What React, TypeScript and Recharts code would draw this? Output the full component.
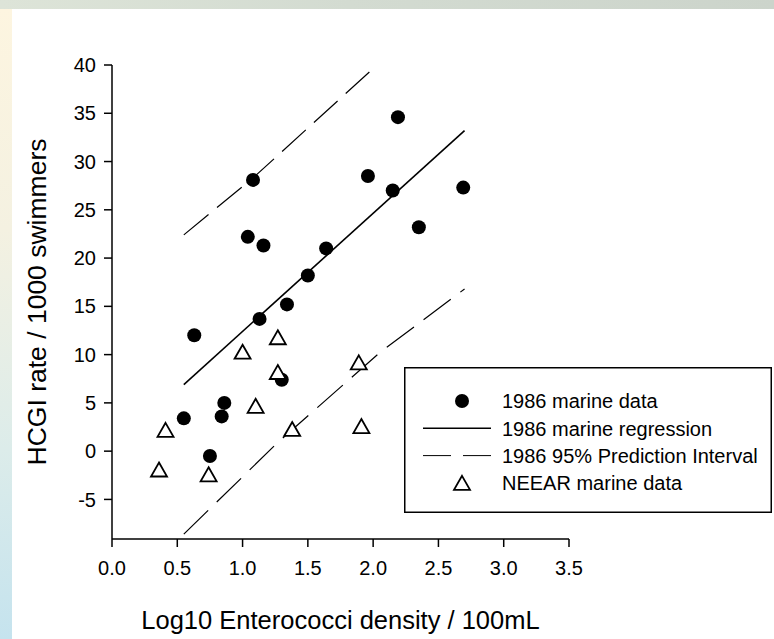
import { ScatterChart, Scatter, XAxis, YAxis, Legend } from 'recharts'

// 1986 marine data (filled circles)
const marineX = [0.55, 0.63, 0.75, 0.84, 0.86, 1.04, 1.08, 1.13, 1.16, 1.3, 1.34, 1.5, 1.64, 1.96, 2.15, 2.19, 2.35, 2.69]
const marineY = [3.4, 12.0, -0.5, 3.6, 5.0, 22.2, 28.1, 13.7, 21.3, 7.4, 15.2, 18.2, 21.0, 28.5, 27.0, 34.6, 23.2, 27.3]

// NEEAR marine data (open triangles)
const neearX = [0.36, 0.41, 0.74, 1.0, 1.1, 1.27, 1.27, 1.38, 1.89, 1.91]
const neearY = [-1.9, 2.2, -2.4, 10.3, 4.7, 8.2, 11.8, 2.3, 9.2, 2.6]

// regression + 95% prediction interval
const regressionX = [0.55, 2.7]
const regressionY = [6.9, 33.2]
const upperPiX = [0.55, 1.08, 2.03]
const upperPiY = [22.4, 28.3, 40.0]
const lowerPiX = [0.55, 1.27, 2.05, 2.7]
const lowerPiY = [-8.6, 0.9, 10.2, 16.8]

const xTicks = [0, 0.5, 1, 1.5, 2, 2.5, 3, 3.5]
const yTicks = [-5, 0, 5, 10, 15, 20, 25, 30, 35, 40]
const legendLabels = ['1986 marine data', '1986 marine regression', '1986 95% Prediction Interval', 'NEEAR marine data']

const zip = (xs: number[], ys: number[]) => xs.map((x, i) => ({ x, y: ys[i] }))

const FONT = '"Liberation Sans", Arial, sans-serif'

const Dot = (p: any) => <circle cx={p.cx} cy={p.cy} r={7} fill="#000" />
const Tri = (p: any) => (
  <path
    d={`M${p.cx},${p.cy - 7} L${p.cx + 8},${p.cy + 7} L${p.cx - 8},${p.cy + 7} Z`}
    fill="#fff"
    stroke="#000"
    strokeWidth={1.8}
  />
)
const NoShape = () => <g />

function LegendBox() {
  const rowY = (i: number) => 34 + i * 27.3
  return (
    <svg width={368} height={146} style={{ display: 'block', fontFamily: FONT }}>
      <rect x={0.75} y={0.75} width={366.5} height={144.5} fill="#fff" stroke="#000" strokeWidth={1.5} />
      <Dot cx={58} cy={rowY(0)} />
      <line x1={19} x2={87} y1={rowY(1)} y2={rowY(1)} stroke="#000" strokeWidth={1.5} />
      <line x1={19} x2={87} y1={rowY(2)} y2={rowY(2)} stroke="#000" strokeWidth={1} strokeDasharray="28 12" />
      <Tri cx={58} cy={rowY(3)} />
      {legendLabels.map((t, i) => (
        <text key={t} x={98} y={rowY(i)} dy="0.36em" fontSize={20} fill="#000">
          {t}
        </text>
      ))}
    </svg>
  )
}

export default function App() {
  return (
    <div style={{ position: 'fixed', left: 0, top: 0, width: 774, height: 639, background: '#fff', overflow: 'hidden' }}>
      <div style={{ position: 'absolute', left: 0, top: 0, width: 774, height: 9, background: 'linear-gradient(to right, #dde4d8, #d3dbd1 45%, #ccd4cb)' }} />
      <div
        style={{
          position: 'absolute',
          left: 0,
          top: 9,
          width: 12,
          height: 630,
          background: 'linear-gradient(to bottom, #fdf5e0 0%, #f4f1e1 35%, #dcecea 70%, #c5e3ee 100%)',
        }}
      />
      <div style={{ position: 'absolute', left: 0, top: 0 }}>
        <ScatterChart width={774} height={639} margin={{ top: 65, right: 205, bottom: 70, left: 0 }} style={{ fontFamily: FONT }}>
          <XAxis
            type="number"
            dataKey="x"
            domain={[0, 3.5]}
            ticks={xTicks}
            allowDataOverflow
            height={30}
            tickSize={8}
            tickMargin={14}
            tickFormatter={(v: number) => v.toFixed(1)}
            tick={{ fill: '#000', fontSize: 20 }}
            axisLine={{ stroke: '#000', strokeWidth: 1.5 }}
            tickLine={{ stroke: '#000', strokeWidth: 1.5 }}
            label={{
              value: 'Log10 Enterococci density / 100mL',
              position: 'bottom',
              offset: 42,
              style: { fill: '#000', fontSize: 25.5 },
            }}
          />
          <YAxis
            type="number"
            dataKey="y"
            domain={[-9.1, 40]}
            ticks={yTicks}
            allowDataOverflow
            width={112}
            tickSize={8}
            tickMargin={8}
            tick={{ fill: '#000', fontSize: 20 }}
            axisLine={{ stroke: '#000', strokeWidth: 1.5 }}
            tickLine={{ stroke: '#000', strokeWidth: 1.5 }}
            label={{
              content: (props: any) => {
                const vb = props.viewBox
                const cy = vb.y + vb.height / 2
                return (
                  <text x={46} y={cy} transform={`rotate(-90, 46, ${cy})`} textAnchor="middle" fontSize={26.5} fill="#000">
                    HCGI rate / 1000 swimmers
                  </text>
                )
              },
            }}
          />
          <Scatter
            data={zip(upperPiX, upperPiY)}
            shape={NoShape}
            line={{ stroke: '#000', strokeWidth: 1.2, strokeDasharray: '32 11' }}
            isAnimationActive={false}
          />
          <Scatter
            data={zip(lowerPiX, lowerPiY)}
            shape={NoShape}
            line={{ stroke: '#000', strokeWidth: 1.2, strokeDasharray: '34 12' }}
            isAnimationActive={false}
          />
          <Scatter
            data={zip(regressionX, regressionY)}
            shape={NoShape}
            line={{ stroke: '#000', strokeWidth: 1.6 }}
            isAnimationActive={false}
          />
          <Scatter data={zip(marineX, marineY)} shape={Dot} isAnimationActive={false} />
          <Scatter data={zip(neearX, neearY)} shape={Tri} isAnimationActive={false} />
          <Legend
            layout="horizontal"
            verticalAlign="middle"
            align="center"
            wrapperStyle={{ left: 404, top: 367, width: 368, height: 146 }}
            content={() => <LegendBox />}
          />
        </ScatterChart>
      </div>
    </div>
  )
}
